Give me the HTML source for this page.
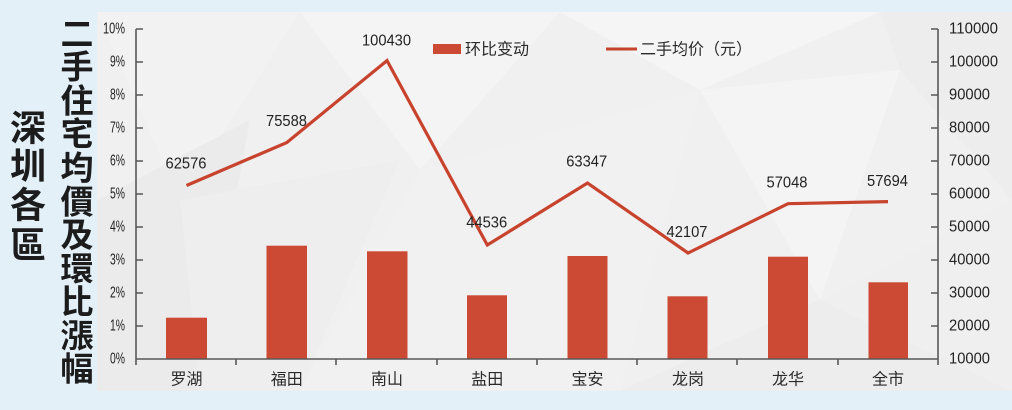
<!DOCTYPE html>
<html><head><meta charset="utf-8">
<style>
html,body{margin:0;padding:0;background:#e3f0f8;}
body{width:1012px;height:410px;overflow:hidden;}
svg{display:block;}
.num{font-family:"Liberation Sans",Arial,sans-serif;font-size:16px;fill:#222;}
.cat{font-family:"Liberation Sans","Noto Sans CJK SC",sans-serif;font-size:16px;fill:#2a2a2a;}
.ttl{font-family:"Liberation Sans","Noto Sans CJK TC",sans-serif;font-weight:bold;fill:#1c1c1c;}
</style></head>
<body>
<svg width="1012" height="410" viewBox="0 0 1012 410" xmlns="http://www.w3.org/2000/svg">
  <rect x="0" y="0" width="1012" height="410" fill="#e3f0f8"/>
  <!-- panel -->
  <rect x="97" y="12" width="915" height="379" fill="#f0f0f0"/>
  <g>
    <polygon points="97,12 300,12 180,200" fill="#f2f2f2"/>
    <polygon points="97,200 250,120 200,391 97,391" fill="#ebebeb"/>
    <polygon points="180,200 400,160 300,391 200,391" fill="#eeeeee"/>
    <polygon points="300,12 560,12 420,170" fill="#f4f4f4"/>
    <polygon points="420,170 700,90 620,391 300,391" fill="#f1f1f1"/>
    <polygon points="560,12 880,12 700,90" fill="#f5f5f5"/>
    <polygon points="700,90 900,70 820,300" fill="#f4f4f4"/>
    <polygon points="620,391 820,300 1012,391" fill="#ededed"/>
    <polygon points="880,12 1012,12 1012,200 900,70" fill="#ededed"/>
    <polygon points="820,300 1012,200 1012,391" fill="#efefef"/>
  </g>

  <!-- title left -->
  <g class="ttl" font-size="36" text-anchor="middle" dominant-baseline="central">
    <text x="28" y="128">深</text>
    <text x="28" y="166">圳</text>
    <text x="28" y="205">各</text>
    <text x="28" y="245">區</text>
  </g>
  <g class="ttl" font-size="33" text-anchor="middle" dominant-baseline="central">
    <text x="77" y="34">二</text>
    <text x="77" y="67">手</text>
    <text x="77" y="101">住</text>
    <text x="77" y="134">宅</text>
    <text x="77" y="168">均</text>
    <text x="77" y="202">價</text>
    <text x="77" y="235">及</text>
    <text x="77" y="269">環</text>
    <text x="77" y="302">比</text>
    <text x="77" y="336">漲</text>
    <text x="77" y="369">幅</text>
  </g>

  <!-- bars -->
  <g fill="#cc4a33">
    <rect x="166" y="317.7" width="41" height="40.8"/>
    <rect x="266.5" y="245.7" width="40.5" height="112.8"/>
    <rect x="367" y="251.3" width="40.5" height="107.2"/>
    <rect x="467" y="295.3" width="40" height="63.2"/>
    <rect x="567.5" y="256" width="40" height="102.5"/>
    <rect x="667.5" y="296.3" width="40" height="62.2"/>
    <rect x="768" y="256.7" width="40" height="101.8"/>
    <rect x="868.5" y="282.3" width="39.5" height="76.2"/>
  </g>

  <!-- axes -->
  <g stroke="#585858" stroke-width="1.6" fill="none">
    <line x1="136" y1="29" x2="136" y2="365"/>
    <line x1="938" y1="29" x2="938" y2="365"/>
    <line x1="136" y1="359" x2="938" y2="359"/>
    <path d="M136 29h7M136 62h7M136 95h7M136 128h7M136 161h7M136 194h7M136 227h7M136 260h7M136 293h7M136 326h7"/>
    <path d="M938 29h-7M938 62h-7M938 95h-7M938 128h-7M938 161h-7M938 194h-7M938 227h-7M938 260h-7M938 293h-7M938 326h-7"/>
    <path d="M236 359v6M336 359v6M437 359v6M537 359v6M637 359v6M737 359v6M838 359v6"/>
  </g>

  <!-- left tick labels -->
  <g class="num" text-anchor="end" dominant-baseline="central" font-size="15">
    <text x="125" y="29" textLength="22" lengthAdjust="spacingAndGlyphs">10%</text>
    <text x="125" y="62" textLength="15" lengthAdjust="spacingAndGlyphs">9%</text>
    <text x="125" y="95" textLength="15" lengthAdjust="spacingAndGlyphs">8%</text>
    <text x="125" y="128" textLength="15" lengthAdjust="spacingAndGlyphs">7%</text>
    <text x="125" y="161" textLength="15" lengthAdjust="spacingAndGlyphs">6%</text>
    <text x="125" y="194" textLength="15" lengthAdjust="spacingAndGlyphs">5%</text>
    <text x="125" y="227" textLength="15" lengthAdjust="spacingAndGlyphs">4%</text>
    <text x="125" y="260" textLength="15" lengthAdjust="spacingAndGlyphs">3%</text>
    <text x="125" y="293" textLength="15" lengthAdjust="spacingAndGlyphs">2%</text>
    <text x="125" y="326" textLength="15" lengthAdjust="spacingAndGlyphs">1%</text>
    <text x="125" y="359" textLength="15" lengthAdjust="spacingAndGlyphs">0%</text>
  </g>

  <!-- right tick labels -->
  <g class="num" dominant-baseline="central">
    <text x="949" y="29" textLength="49" lengthAdjust="spacingAndGlyphs">110000</text>
    <text x="949" y="62" textLength="49" lengthAdjust="spacingAndGlyphs">100000</text>
    <text x="949" y="95" textLength="41" lengthAdjust="spacingAndGlyphs">90000</text>
    <text x="949" y="128" textLength="41" lengthAdjust="spacingAndGlyphs">80000</text>
    <text x="949" y="161" textLength="41" lengthAdjust="spacingAndGlyphs">70000</text>
    <text x="949" y="194" textLength="41" lengthAdjust="spacingAndGlyphs">60000</text>
    <text x="949" y="227" textLength="41" lengthAdjust="spacingAndGlyphs">50000</text>
    <text x="949" y="260" textLength="41" lengthAdjust="spacingAndGlyphs">40000</text>
    <text x="949" y="293" textLength="41" lengthAdjust="spacingAndGlyphs">30000</text>
    <text x="949" y="326" textLength="41" lengthAdjust="spacingAndGlyphs">20000</text>
    <text x="949" y="359" textLength="41" lengthAdjust="spacingAndGlyphs">10000</text>
  </g>

  <!-- line -->
  <polyline points="186.5,185.5 286.7,142.6 387,60.6 487.3,245 587.5,183 688,253 788,203.7 888,201.6"
    fill="none" stroke="#c8432d" stroke-width="3.2" stroke-linejoin="miter"/>

  <!-- data labels -->
  <g class="num" text-anchor="middle" dominant-baseline="central">
    <text x="186" y="164" textLength="41" lengthAdjust="spacingAndGlyphs">62576</text>
    <text x="286.5" y="121.5" textLength="41" lengthAdjust="spacingAndGlyphs">75588</text>
    <text x="386.5" y="41" textLength="49" lengthAdjust="spacingAndGlyphs">100430</text>
    <text x="486.7" y="223" textLength="41" lengthAdjust="spacingAndGlyphs">44536</text>
    <text x="586.7" y="162" textLength="41" lengthAdjust="spacingAndGlyphs">63347</text>
    <text x="687" y="232.7" textLength="41" lengthAdjust="spacingAndGlyphs">42107</text>
    <text x="787" y="183" textLength="41" lengthAdjust="spacingAndGlyphs">57048</text>
    <text x="887.5" y="181.5" textLength="41" lengthAdjust="spacingAndGlyphs">57694</text>
  </g>

  <!-- legend -->
  <rect x="433" y="44" width="28" height="10" fill="#cc4a33"/>
  <text class="cat" x="465" y="50" dominant-baseline="central">环比变动</text>
  <line x1="606" y1="49" x2="637" y2="49" stroke="#c8432d" stroke-width="3"/>
  <text class="cat" x="640" y="50" dominant-baseline="central">二手均价（元）</text>

  <!-- categories -->
  <g class="cat" text-anchor="middle" dominant-baseline="central">
    <text x="186.5" y="380">罗湖</text>
    <text x="286.7" y="380">福田</text>
    <text x="387" y="380">南山</text>
    <text x="487.3" y="380">盐田</text>
    <text x="587.5" y="380">宝安</text>
    <text x="688" y="380">龙岗</text>
    <text x="788" y="380">龙华</text>
    <text x="888" y="380">全市</text>
  </g>
</svg>
</body></html>
